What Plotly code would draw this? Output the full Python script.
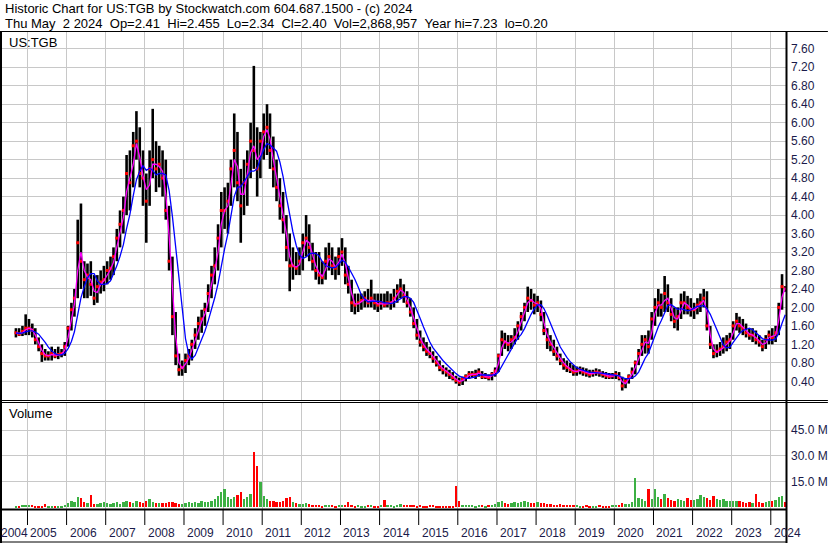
import pandas as pd
import plotly.graph_objects as go

# monthly bars, Sep 2004 .. May 2024
high = [
    1.55, 1.55, 1.60, 1.85,  # 2004 Sep-Dec
    1.75, 1.65, 1.55, 1.35, 1.20, 1.10, 1.05, 1.15, 1.10, 1.15, 1.10, 1.25,  # 2005
    1.60, 2.10, 2.40, 3.90, 4.25, 3.00, 2.95, 3.00, 2.70, 2.70, 2.80, 2.90,  # 2006
    3.00, 3.10, 3.30, 3.70, 4.10, 4.40, 5.30, 5.40, 5.80, 6.25, 5.90, 5.40,  # 2007
    4.90, 5.40, 6.30, 5.60, 5.50, 5.40, 5.20, 4.20, 3.10, 1.90, 1.00, 0.85,  # 2008
    1.00, 1.10, 1.30, 1.55, 1.80, 1.95, 2.10, 2.50, 2.90, 3.30, 3.80, 4.50,  # 2009
    4.60, 4.70, 5.20, 6.20, 5.80, 5.00, 5.20, 5.40, 6.00, 7.23, 5.90, 5.80,  # 2010
    6.20, 6.40, 6.20, 5.70, 5.20, 4.80, 4.50, 4.00, 3.60, 3.30, 3.20, 3.30,  # 2011
    3.60, 4.00, 3.80, 3.40, 3.20, 3.20, 3.00, 3.30, 3.40, 3.30, 3.10, 3.30,  # 2012
    3.50, 3.30, 2.90, 2.60, 2.30, 2.30, 2.30, 2.35, 2.40, 2.60, 2.30, 2.30,  # 2013
    2.30, 2.30, 2.35, 2.30, 2.40, 2.50, 2.62, 2.50, 2.35, 2.20, 2.00, 1.75,  # 2014
    1.50, 1.35, 1.25, 1.15, 1.05, 0.95, 0.85, 0.75, 0.70, 0.65, 0.60, 0.52,  # 2015
    0.48, 0.50, 0.55, 0.62, 0.62, 0.65, 0.68, 0.62, 0.58, 0.55, 0.60, 0.70,  # 2016
    1.00, 1.50, 1.45, 1.40, 1.40, 1.55, 1.70, 1.90, 2.10, 2.45, 2.40, 2.30,  # 2017
    2.25, 2.15, 1.90, 1.55, 1.40, 1.30, 1.15, 1.00, 0.90, 0.85, 0.80, 0.75,  # 2018
    0.72, 0.72, 0.70, 0.68, 0.65, 0.65, 0.68, 0.66, 0.62, 0.60, 0.58, 0.58,  # 2019
    0.62, 0.60, 0.50, 0.45, 0.55, 0.70, 0.85, 1.10, 1.40, 1.40, 1.50, 1.90,  # 2020
    2.20, 2.40, 2.30, 2.68, 2.50, 2.20, 2.00, 2.00, 2.30, 2.35, 2.25, 2.20,  # 2021
    2.10, 2.20, 2.30, 2.40, 2.35, 1.60, 1.20, 1.20, 1.25, 1.35, 1.40, 1.45,  # 2022
    1.70, 1.88, 1.80, 1.75, 1.65, 1.55, 1.55, 1.50, 1.40, 1.30, 1.40, 1.50,  # 2023
    1.55, 1.60, 2.10, 2.72, 2.46,  # 2024 Jan-May
]
low = [
    1.35, 1.38, 1.38, 1.40,
    1.40, 1.35, 1.20, 1.05, 0.82, 0.85, 0.85, 0.85, 0.90, 0.88, 0.92, 0.95,
    1.15, 1.50, 1.80, 2.20, 2.40, 2.20, 2.20, 2.25, 2.05, 2.10, 2.30, 2.35,
    2.50, 2.60, 2.70, 3.00, 3.30, 3.60, 4.00, 4.10, 4.60, 5.20, 4.60, 4.20,
    3.40, 4.20, 4.80, 4.50, 4.60, 4.40, 3.90, 2.80, 1.40, 0.75, 0.52, 0.52,
    0.58, 0.75, 0.85, 1.10, 1.30, 1.45, 1.60, 1.90, 2.20, 2.50, 2.80, 3.30,
    3.70, 3.60, 4.20, 4.60, 4.30, 3.40, 4.00, 4.20, 4.80, 5.00, 4.40, 4.80,
    5.20, 5.30, 5.00, 4.60, 4.30, 3.90, 3.60, 3.00, 2.35, 2.60, 2.70, 2.70,
    2.80, 3.10, 3.00, 2.80, 2.60, 2.50, 2.50, 2.60, 2.80, 2.70, 2.60, 2.70,
    2.90, 2.50, 2.30, 1.90, 1.85, 1.90, 1.95, 2.00, 2.00, 2.00, 1.95, 1.90,
    1.95, 2.00, 2.00, 1.95, 2.00, 2.10, 2.20, 2.10, 2.00, 1.80, 1.55, 1.30,
    1.15, 1.05, 0.95, 0.90, 0.80, 0.72, 0.62, 0.55, 0.50, 0.45, 0.42, 0.35,
    0.30, 0.32, 0.40, 0.45, 0.48, 0.45, 0.50, 0.45, 0.45, 0.42, 0.42, 0.50,
    0.60, 0.95, 1.10, 1.05, 1.10, 1.20, 1.30, 1.50, 1.70, 1.90, 1.95, 1.85,
    1.90, 1.70, 1.40, 1.10, 1.05, 0.95, 0.85, 0.75, 0.65, 0.60, 0.58, 0.52,
    0.52, 0.55, 0.52, 0.50, 0.48, 0.50, 0.52, 0.50, 0.48, 0.45, 0.45, 0.45,
    0.45, 0.42, 0.20, 0.25, 0.35, 0.45, 0.55, 0.75, 0.95, 1.00, 1.00, 1.30,
    1.60, 1.80, 1.80, 1.90, 1.90, 1.70, 1.55, 1.50, 1.75, 1.85, 1.85, 1.80,
    1.75, 1.85, 1.90, 2.00, 1.50, 1.10, 0.90, 0.92, 0.95, 1.00, 1.05, 1.10,
    1.30, 1.50, 1.45, 1.40, 1.35, 1.30, 1.25, 1.20, 1.15, 1.05, 1.10, 1.20,
    1.20, 1.25, 1.40, 1.95, 2.34,
]
close = [
    1.45, 1.42, 1.48, 1.55,
    1.55, 1.50, 1.30, 1.15, 1.00, 0.95, 0.95, 1.00, 0.95, 0.98, 1.00, 1.15,
    1.55, 1.95, 2.20, 3.40, 3.00, 2.60, 2.70, 2.50, 2.20, 2.45, 2.55, 2.60,
    2.80, 2.85, 3.10, 3.50, 3.80, 4.10, 4.90, 4.70, 5.50, 5.60, 4.90, 4.80,
    4.30, 5.00, 5.20, 5.00, 5.10, 4.80, 4.10, 3.00, 1.80, 0.95, 0.65, 0.70,
    0.85, 0.95, 1.20, 1.40, 1.65, 1.75, 1.95, 2.30, 2.70, 2.90, 3.50, 4.10,
    4.10, 4.30, 5.00, 5.40, 4.70, 4.20, 4.70, 5.10, 5.60, 5.40, 5.00, 5.60,
    5.80, 5.90, 5.40, 5.00, 4.60, 4.20, 3.90, 3.30, 2.90, 2.90, 2.85, 3.00,
    3.40, 3.50, 3.30, 3.00, 2.80, 2.70, 2.65, 3.00, 3.10, 2.90, 2.85, 3.10,
    3.20, 2.70, 2.50, 2.10, 2.05, 2.10, 2.15, 2.20, 2.10, 2.20, 2.10, 2.05,
    2.10, 2.05, 2.10, 2.10, 2.20, 2.35, 2.40, 2.25, 2.10, 1.90, 1.65, 1.40,
    1.25, 1.15, 1.05, 1.00, 0.90, 0.80, 0.70, 0.65, 0.60, 0.55, 0.48, 0.42,
    0.38, 0.45, 0.50, 0.55, 0.55, 0.55, 0.60, 0.50, 0.50, 0.48, 0.55, 0.62,
    0.95, 1.30, 1.25, 1.20, 1.30, 1.35, 1.60, 1.80, 2.00, 2.20, 2.15, 2.05,
    2.10, 1.85, 1.50, 1.30, 1.20, 1.05, 0.95, 0.85, 0.75, 0.70, 0.65, 0.60,
    0.62, 0.65, 0.60, 0.58, 0.55, 0.58, 0.60, 0.58, 0.55, 0.52, 0.50, 0.52,
    0.55, 0.48, 0.30, 0.40, 0.50, 0.60, 0.80, 1.00, 1.20, 1.30, 1.15, 1.75,
    2.00, 2.10, 2.00, 2.30, 2.10, 1.85, 1.70, 1.80, 2.10, 2.10, 2.00, 1.95,
    1.95, 2.05, 2.10, 2.20, 1.60, 1.20, 1.00, 1.05, 1.10, 1.15, 1.25, 1.30,
    1.60, 1.70, 1.60, 1.55, 1.45, 1.40, 1.40, 1.30, 1.25, 1.15, 1.30, 1.40,
    1.35, 1.45, 2.00, 2.45, 2.40,
]
# volume in millions of shares
volume = [
    0.8, 1.0, 1.2, 1.5,
    1.5, 1.2, 1.0, 0.9, 1.0, 2.0, 0.8, 0.9, 1.0, 0.8, 1.0, 1.2,
    2.5, 3.5, 3.0, 6.0, 5.5, 3.0, 2.5, 7.5, 2.0, 2.0, 2.5, 3.0,
    2.5, 2.0, 2.5, 3.0, 2.0, 3.0, 4.0, 3.0, 2.5, 3.5, 3.0, 2.5,
    3.5, 4.8, 3.0, 2.5, 2.5, 2.8, 2.5, 3.0, 3.0, 2.5, 2.0, 2.0,
    2.5, 3.0, 2.5, 3.0, 2.5, 3.5, 3.0, 3.0, 4.0, 5.0, 7.0, 9.0,
    11.0, 6.0, 5.0, 6.0, 7.5, 9.0, 5.0, 6.0, 8.0, 32.5, 24.0, 15.0,
    7.0, 5.0, 4.0, 3.5, 3.0, 3.0, 4.0, 5.5, 6.0, 3.0, 2.5, 2.0,
    2.0, 2.5, 2.0, 1.5, 1.5, 1.5, 1.0, 1.5, 1.5, 1.2, 1.0, 1.5,
    1.5, 1.2, 3.0, 1.5, 1.0, 1.2, 1.0, 1.0, 1.2, 1.5, 1.0, 1.0,
    1.2, 4.5, 1.5, 1.2, 1.0, 1.5, 2.0, 1.5, 1.2, 1.5, 1.2, 1.0,
    1.2, 1.0, 1.0, 1.2, 1.5, 1.0, 0.8, 1.0, 1.0, 0.8, 1.0, 12.5,
    4.0, 1.5, 1.2, 1.5, 1.2, 1.0, 1.5, 1.2, 1.0, 1.2, 1.5, 2.0,
    3.0, 3.5, 2.5, 2.0, 2.5, 3.0, 2.5, 3.0, 3.5, 3.0, 2.5, 2.5,
    3.0, 2.5, 2.5, 2.0, 2.0, 1.5, 1.5, 2.0, 1.5, 1.5, 1.2, 1.5,
    1.2, 1.0, 1.0, 1.2, 1.0, 0.8, 1.0, 1.2, 1.0, 0.8, 1.0, 1.5,
    1.5, 1.5, 2.5, 2.0, 2.0, 3.0, 17.5, 5.5, 5.0, 4.0, 11.0, 5.0,
    11.0, 6.0, 5.0, 8.0, 5.5, 4.5, 4.0, 5.0, 4.5, 4.0, 5.5, 4.5,
    4.5, 5.0, 7.5, 6.0, 5.5, 4.5, 6.5, 5.0, 4.5, 5.0, 4.0, 4.0,
    4.0, 3.5, 3.5, 3.0, 2.5, 3.0, 2.5, 8.0, 3.0, 2.5, 3.0, 3.5,
    4.0, 4.5, 6.0, 7.0, 3.0,
]
price_ticks = [0.4, 0.8, 1.2, 1.6, 2.0, 2.4, 2.8, 3.2, 3.6, 4.0, 4.4, 4.8,
               5.2, 5.6, 6.0, 6.4, 6.8, 7.2, 7.6]
volume_ticks = [15, 30, 45]
years = list(range(2005, 2025))

header_1 = "Historic Chart for US:TGB by Stockwatch.com 604.687.1500 - (c) 2024"
header_2 = ("Thu May  2 2024  Op=2.41  Hi=2.455  Lo=2.34  Cl=2.40  "
            "Vol=2,868,957  Year hi=7.23  lo=0.20")

# page geometry in pixels
W, H = 830, 543
ML, MR, MT, MB = 2, 42, 32, 34
PW, PH = W - ML - MR, H - MT - MB


def px_x(x):
    return (x - ML) / PW


def px_y(y):
    return (H - MB - y) / PH


dates = pd.date_range("2004-09-01", periods=len(close), freq="MS") + pd.Timedelta(days=14)
df = pd.DataFrame({"date": dates, "high": high, "low": low,
                   "close": close, "vol": volume})
df["ma_fast"] = df["close"].rolling(2, min_periods=1).mean()
df["ma_slow"] = df["close"].rolling(6, min_periods=1).mean()
vol_colors = ["#ff0000" if d < 0 else "#3cb043"
              for d in df["close"].diff().fillna(0)]

bar_x, bar_y = [], []
for d, lo, hi in zip(df["date"], df["low"], df["high"]):
    bar_x += [d, d, None]
    bar_y += [lo, hi, None]

fig = go.Figure()
fig.add_trace(go.Scatter(x=bar_x, y=bar_y, mode="lines",
                         line=dict(color="black", width=2.6),
                         hoverinfo="skip", showlegend=False))
fig.add_trace(go.Scatter(x=df["date"], y=df["close"], mode="markers",
                         marker=dict(color="#ff0000", size=3, symbol="square"),
                         showlegend=False))
fig.add_trace(go.Scatter(x=df["date"], y=df["ma_fast"], mode="lines",
                         line=dict(color="#ff00ff", width=1.3),
                         showlegend=False))
fig.add_trace(go.Scatter(x=df["date"], y=df["ma_slow"], mode="lines",
                         line=dict(color="#0000ff", width=1.3),
                         showlegend=False))
fig.add_trace(go.Bar(x=df["date"], y=df["vol"], marker_color=vol_colors,
                     marker_line_width=0, width=22 * 86400000,
                     xaxis="x2", yaxis="y2", showlegend=False))

grid = "#c8c8c8"
label_font = dict(family="Liberation Sans, Arial", size=12, color="#1a1a4a")
xcommon = dict(type="date", range=["2004-05-08", "2024-05-22"],
               tick0="2005-01-01", dtick="M12", showgrid=True, gridcolor=grid,
               gridwidth=1, showticklabels=False, ticks="", zeroline=False,
               showline=False)

fig.update_layout(
    width=W, height=H,
    margin=dict(l=ML, r=MR, t=MT, b=MB, pad=0),
    plot_bgcolor="white", paper_bgcolor="white",
    bargap=0,
    xaxis=dict(domain=[0, 1], anchor="y", **xcommon),
    xaxis2=dict(domain=[0, 1], anchor="y2", matches="x", **xcommon),
    yaxis=dict(domain=[px_y(400), 1], range=[-0.005, 7.964], side="right",
               tickvals=price_ticks, ticktext=[f"{v:.2f}" for v in price_ticks],
               showgrid=True, gridcolor=grid, gridwidth=1, zeroline=False,
               ticks="", tickfont=label_font, ticklabelstandoff=4),
    yaxis2=dict(domain=[0, px_y(402.5)], range=[-1.2, 61.2], side="right",
                tickvals=volume_ticks,
                ticktext=[f"{v:.1f} M" for v in volume_ticks],
                showgrid=True, gridcolor=grid, gridwidth=1, zeroline=False,
                ticks="", tickfont=label_font, ticklabelstandoff=4),
)

shapes = []


def hline(y, x0=-ML, x1=W, width=1):
    shapes.append(dict(type="line", xref="paper", yref="paper",
                       x0=px_x(x0), x1=px_x(x1), y0=px_y(y), y1=px_y(y),
                       line=dict(color="black", width=width)))


def vline(x, y0, y1, width=1):
    shapes.append(dict(type="line", xref="paper", yref="paper",
                       x0=px_x(x), x1=px_x(x), y0=px_y(y0), y1=px_y(y1),
                       line=dict(color="black", width=width)))


hline(31.5, width=1)
hline(400.5)
hline(402.5)
hline(509.5, x1=789, width=2)
hline(542, x1=789, width=1)
vline(1, 32, 543, width=2)
vline(788.5, 32, 543, width=2)
for yr in years:
    shapes.append(dict(type="line", xref="x", yref="paper",
                       x0=f"{yr}-01-01", x1=f"{yr}-01-01",
                       y0=px_y(510), y1=px_y(525),
                       line=dict(color="black", width=1)))

annotations = [
    dict(text=header_1.replace(" ", "\u00a0"), x=px_x(3), y=px_y(8)),
    dict(text=header_2.replace(" ", "\u00a0"), x=px_x(3), y=px_y(24)),
    dict(text="US:TGB", x=px_x(7), y=px_y(43)),
    dict(text="Volume", x=px_x(7), y=px_y(413)),
    dict(text="2004", x=px_x(-1), y=px_y(533)),
]
for a in annotations:
    a.update(xref="paper", yref="paper", xanchor="left", yanchor="middle",
             showarrow=False, font=dict(family="Liberation Sans, Arial",
                                        size=13, color="black"))
annotations[-1]["font"] = label_font
for yr in years:
    annotations.append(dict(text=str(yr), x=f"{yr}-01-01", xref="x",
                            y=px_y(533), yref="paper", xanchor="left",
                            yanchor="middle", xshift=1, showarrow=False,
                            font=label_font))

fig.update_layout(shapes=shapes, annotations=annotations)
# the browser's default 8px body margin would push the chart off the page
fig.write_html("out.html", config={"displayModeBar": False},
               post_script="document.body.style.margin='0';"
                           "document.body.style.overflow='hidden';")
